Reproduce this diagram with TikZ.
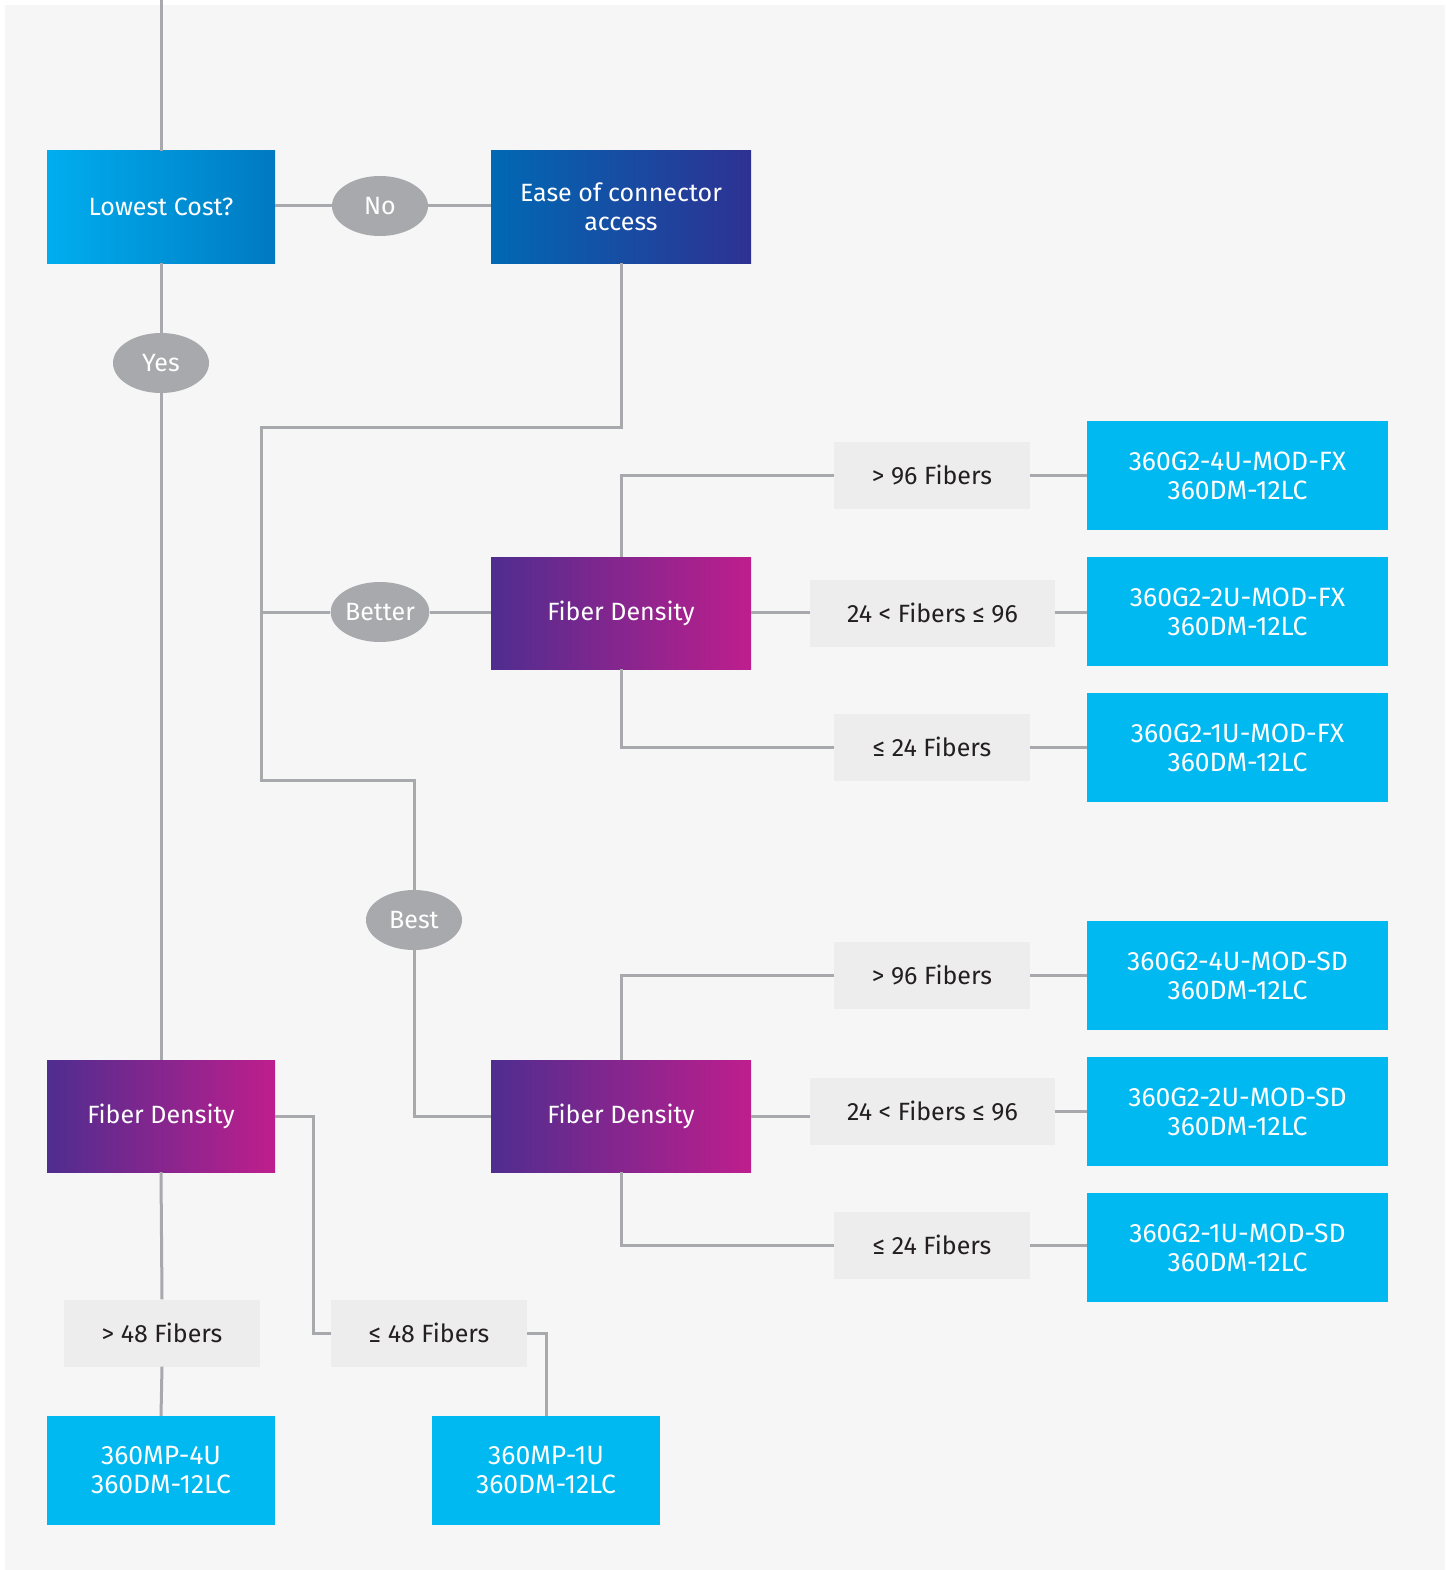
\documentclass[tikz,border=0pt]{standalone}
\usepackage{fontspec}
\setmainfont{Fira Sans}
\usetikzlibrary{shapes.geometric, calc}

\definecolor{pagegray}{HTML}{F6F6F6}
\definecolor{wiregray}{HTML}{A7A9AC}
\definecolor{prodcyan}{HTML}{00B9F1}
\definecolor{costleft}{HTML}{00AEEF}
\definecolor{costright}{HTML}{0079C1}
\definecolor{easeleft}{HTML}{0069B4}
\definecolor{easeright}{HTML}{2E3192}
\definecolor{densleft}{HTML}{4F2D8F}
\definecolor{densright}{HTML}{BE1E8D}
\definecolor{rangegray}{HTML}{EDEDED}
\definecolor{rangetext}{HTML}{231F20}

\begin{document}
\begin{tikzpicture}[x=1pt, y=-1pt,
    wire/.style={draw=wiregray, line width=3pt},
    box/.style={rectangle, inner sep=0pt, text=white, align=center,
        font=\fontsize{25}{29}\selectfont},
    costbox/.style={box, left color=costleft, right color=costright,
        minimum width=228pt, minimum height=112pt},
    easebox/.style={box, left color=easeleft, right color=easeright,
        minimum width=260pt, minimum height=112pt},
    densbox/.style={box, left color=densleft, right color=densright,
        minimum height=112pt},
    prodbox/.style={box, fill=prodcyan, minimum height=109pt,
        font=\fontsize{26.5}{29}\selectfont},
    answer/.style={ellipse, fill=wiregray, text=white, inner sep=0pt,
        minimum width=96pt, minimum height=60pt,
        font=\fontsize{25}{29}\selectfont},
    rangebox/.style={rectangle, fill=rangegray, text=rangetext, inner sep=0pt,
        minimum height=67pt, font=\fontsize{25}{29}\selectfont}]

    \useasboundingbox (0, 0) rectangle (1445, 1570);
    \fill[white] (0, 0) rectangle (1445, 1570);
    \fill[pagegray] (5, 5) rectangle (1445, 1570);

    \node (cost) at (161, 207) [costbox] {Lowest Cost?};
    \node (no) at (380, 206) [answer] {No};
    \node (ease) at (621, 207) [easebox] {Ease of connector\\access};
    \node (yes) at (161, 363) [answer] {Yes};
    \node (better) at (380, 612) [answer] {Better};
    \node (best) at (414, 920) [answer] {Best};

    \node (densa) at (621, 613) [densbox, minimum width=260pt] {Fiber Density};
    \node (densb) at (621, 1116) [densbox, minimum width=260pt] {Fiber Density};
    \node (densc) at (161, 1116) [densbox, minimum width=228pt] {Fiber Density};

    \node (ra1) at (932, 475.5) [rangebox, minimum width=196pt] {> 96 Fibers};
    \node (ra2) at (932.5, 613) [rangebox, minimum width=245pt] {24 < Fibers ≤ 96};
    \node (ra3) at (932, 747) [rangebox, minimum width=196pt] {≤ 24 Fibers};
    \node (rb1) at (932, 975) [rangebox, minimum width=196pt] {> 96 Fibers};
    \node (rb2) at (932.5, 1111.5) [rangebox, minimum width=245pt] {24 < Fibers ≤ 96};
    \node (rb3) at (932, 1245) [rangebox, minimum width=196pt] {≤ 24 Fibers};
    \node (rc1) at (162, 1333) [rangebox, minimum width=196pt] {> 48 Fibers};
    \node (rc2) at (429, 1333) [rangebox, minimum width=196pt] {≤ 48 Fibers};

    \node (pa1) at (1237.5, 475.5) [prodbox, minimum width=301pt] {360G2-4U-MOD-FX\\360DM-12LC};
    \node (pa2) at (1237.5, 611.5) [prodbox, minimum width=301pt] {360G2-2U-MOD-FX\\360DM-12LC};
    \node (pa3) at (1237.5, 747.5) [prodbox, minimum width=301pt] {360G2-1U-MOD-FX\\360DM-12LC};
    \node (pb1) at (1237.5, 975.5) [prodbox, minimum width=301pt] {360G2-4U-MOD-SD\\360DM-12LC};
    \node (pb2) at (1237.5, 1111.5) [prodbox, minimum width=301pt] {360G2-2U-MOD-SD\\360DM-12LC};
    \node (pb3) at (1237.5, 1247.5) [prodbox, minimum width=301pt] {360G2-1U-MOD-SD\\360DM-12LC};
    \node (pc1) at (161, 1470.5) [prodbox, minimum width=228pt] {360MP-4U\\360DM-12LC};
    \node (pc2) at (546, 1470.5) [prodbox, minimum width=228pt] {360MP-1U\\360DM-12LC};

    \coordinate (top) at (161, 0);
    \coordinate (split) at (261, 427);
    \coordinate (turn) at (261, 780);

    \draw[wire] (top) -- (cost.north);
    \draw[wire] (cost.east |- no) -- (no.west);
    \draw[wire] (no.east) -- (ease.west |- no);
    \draw[wire] (cost.south) -- (yes.north);
    \draw[wire] (yes.south) -- (densc.north);
    \draw[wire] (ease.south) |- (split) -- (turn) -| (best.north);
    \draw[wire] (split |- better) -- (better.west);
    \draw[wire] (better.east) -- (densa.west |- better);
    \draw[wire] (best.south) |- (densb.west);

    \draw[wire] (densa.north) |- (ra1.west);
    \draw[wire] (densa.east |- better) -- (ra2.west |- better);
    \draw[wire] (densa.south) |- (ra3.west);
    \draw[wire] (ra1.east) -- (pa1.west);
    \draw[wire] (ra2.east |- better) -- (pa2.west |- better);
    \draw[wire] (ra3.east) -- (pa3.west |- ra3.east);

    \draw[wire] (densb.north) |- (rb1.west);
    \draw[wire] (densb.east) -- (rb2.west |- densb.east);
    \draw[wire] (densb.south) |- (rb3.west);
    \draw[wire] (rb1.east) -- (pb1.west |- rb1.east);
    \draw[wire] (rb2.east |- pb2.west) -- (pb2.west);
    \draw[wire] (rb3.east) -- (pb3.west |- rb3.east);

    \draw[wire] (densc.south) -- (rc1.north);
    \draw[wire] (rc1.south) -- (pc1.north);
    \draw[wire] (densc.east) -- ++(38, 0) |- (rc2.west);
    \draw[wire] (rc2.east) -| (pc2.north);
\end{tikzpicture}
\end{document}
